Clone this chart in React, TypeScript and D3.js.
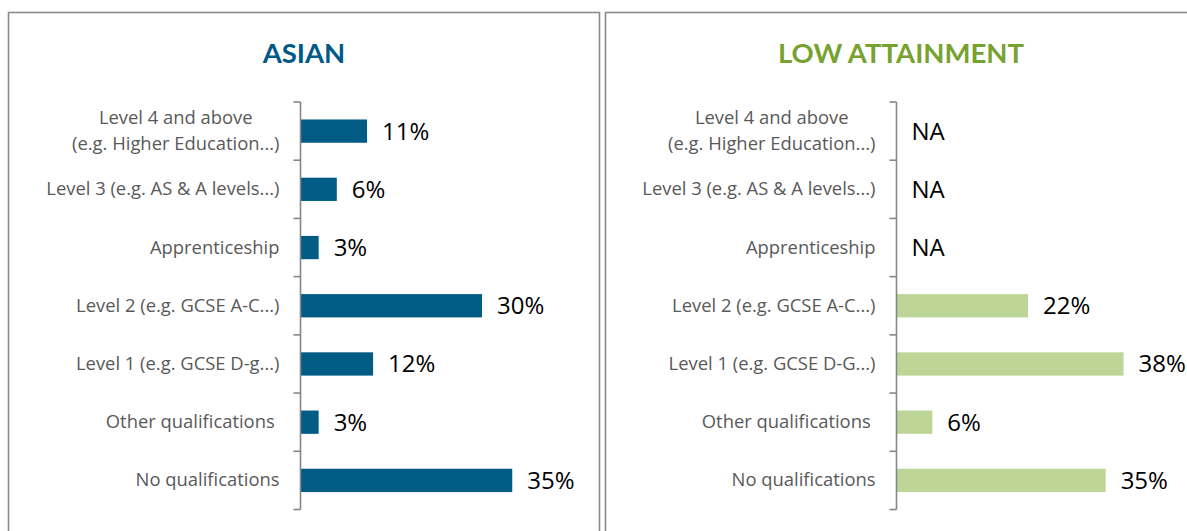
import React, { useEffect, useRef } from "react";
import * as d3 from "d3";

const asianCategories = [
  "Level 4 and above\n(e.g. Higher Education...)",
  "Level 3 (e.g. AS & A levels...)",
  "Apprenticeship",
  "Level 2 (e.g. GCSE A-C...)",
  "Level 1 (e.g. GCSE D-g...)",
  "Other qualifications ",
  "No qualifications",
];
const lowCategories = [
  "Level 4 and above\n(e.g. Higher Education...)",
  "Level 3 (e.g. AS & A levels...)",
  "Apprenticeship",
  "Level 2 (e.g. GCSE A-C...)",
  "Level 1 (e.g. GCSE D-G...)",
  "Other qualifications ",
  "No qualifications",
];
const asianValues: (number | null)[] = [11, 6, 3, 30, 12, 3, 35];
const lowValues: (number | null)[] = [null, null, null, 22, 38, 6, 35];

const W = 1187;
const H = 531;
const LABEL_FONT = "'Open Sans', sans-serif";
const TITLE_FONT = "Lato, 'Open Sans', sans-serif";

interface PanelCfg {
  left: number;
  title: string;
  titleColor: string;
  barColor: string;
  categories: string[];
  values: (number | null)[];
  axisX: number;
  pxPerUnitMax: number;
}

const panels: PanelCfg[] = [
  {
    left: 8.5,
    title: "ASIAN",
    titleColor: "#005A87",
    barColor: "#005B85",
    categories: asianCategories,
    values: asianValues,
    axisX: 300.5,
    pxPerUnitMax: 242,
  },
  {
    left: 605.5,
    title: "LOW ATTAINMENT",
    titleColor: "#77A22F",
    barColor: "#BDD597",
    categories: lowCategories,
    values: lowValues,
    axisX: 896.5,
    pxPerUnitMax: 239,
  },
];

export default function App() {
  const ref = useRef<SVGSVGElement | null>(null);

  useEffect(() => {
    const svg = d3.select(ref.current);
    svg.selectAll("*").remove();
    const panelW = 591;

    panels.forEach((p) => {
      const g = svg.append("g");
      g.append("rect")
        .attr("x", p.left)
        .attr("y", 12.5)
        .attr("width", panelW)
        .attr("height", 600)
        .attr("fill", "#fff")
        .attr("stroke", "#8a8a8a")
        .attr("stroke-width", 1.6);

      g.append("text")
        .attr("x", p.left + panelW / 2)
        .attr("y", 63)
        .attr("text-anchor", "middle")
        .attr("font-family", TITLE_FONT)
        .attr("font-weight", 700)
        .attr("font-size", 27.5)
        .attr("fill", p.titleColor)
        .text(p.title);

      const y = d3
        .scaleBand<number>()
        .domain(d3.range(p.categories.length))
        .range([102, 509.5])
        .paddingInner(0.6)
        .paddingOuter(0.3);
      const x = d3
        .scaleLinear()
        .domain([0, 40])
        .range([p.axisX, p.axisX + p.pxPerUnitMax]);

      g.selectAll("rect.bar")
        .data(p.values)
        .join("rect")
        .attr("class", "bar")
        .attr("x", p.axisX)
        .attr("y", (_d, i) => y(i)!)
        .attr("height", y.bandwidth())
        .attr("width", (d) => (d == null ? 0 : x(d) - p.axisX))
        .attr("fill", p.barColor);

      const step = y.step();
      const axisG = g.append("g");
      axisG
        .append("line")
        .attr("x1", p.axisX)
        .attr("x2", p.axisX)
        .attr("y1", 102)
        .attr("y2", 509.5)
        .attr("stroke", "#868686")
        .attr("stroke-width", 1.6);
      d3.range(p.categories.length + 1).forEach((k) => {
        const ty = 102 + k * step;
        axisG
          .append("line")
          .attr("x1", p.axisX - 7)
          .attr("x2", p.axisX)
          .attr("y1", ty)
          .attr("y2", ty)
          .attr("stroke", "#868686")
          .attr("stroke-width", 1.6);
      });

      const labelRight = p.axisX - 21;
      p.categories.forEach((c, i) => {
        const cy = y(i)! + y.bandwidth() / 2;
        const lines = c.split("\n");
        const t = g
          .append("text")
          .attr("font-family", LABEL_FONT)
          .attr("font-size", 18.4)
          .attr("fill", "#595959")
          .style("white-space", "pre");
        if (lines.length === 1) {
          t.attr("x", labelRight)
            .attr("y", cy + 6)
            .attr("text-anchor", "end")
            .text(lines[0]);
        } else {
          const spans = lines.map((ln, k) =>
            t
              .append("tspan")
              .attr("y", cy + 6 + (k - (lines.length - 1) / 2) * 25.5)
              .text(ln)
          );
          const widths = spans.map((s) => (s.node() as SVGTSpanElement).getComputedTextLength());
          const maxW = Math.max(...widths);
          t.attr("text-anchor", "middle");
          spans.forEach((s) => s.attr("x", labelRight - maxW / 2));
        }
      });

      p.values.forEach((v, i) => {
        const cy = y(i)! + y.bandwidth() / 2;
        g.append("text")
          .attr("x", (v == null ? p.axisX : x(v)) + 15)
          .attr("y", cy + 8.5)
          .attr("font-family", LABEL_FONT)
          .attr("font-size", 24)
          .attr("fill", "#000")
          .text(v == null ? "NA" : `${v}%`);
      });
    });
  }, []);

  return (
    <svg
      ref={ref}
      width={W}
      height={H}
      style={{ position: "absolute", left: 0, top: 0, background: "#fff" }}
    />
  );
}
